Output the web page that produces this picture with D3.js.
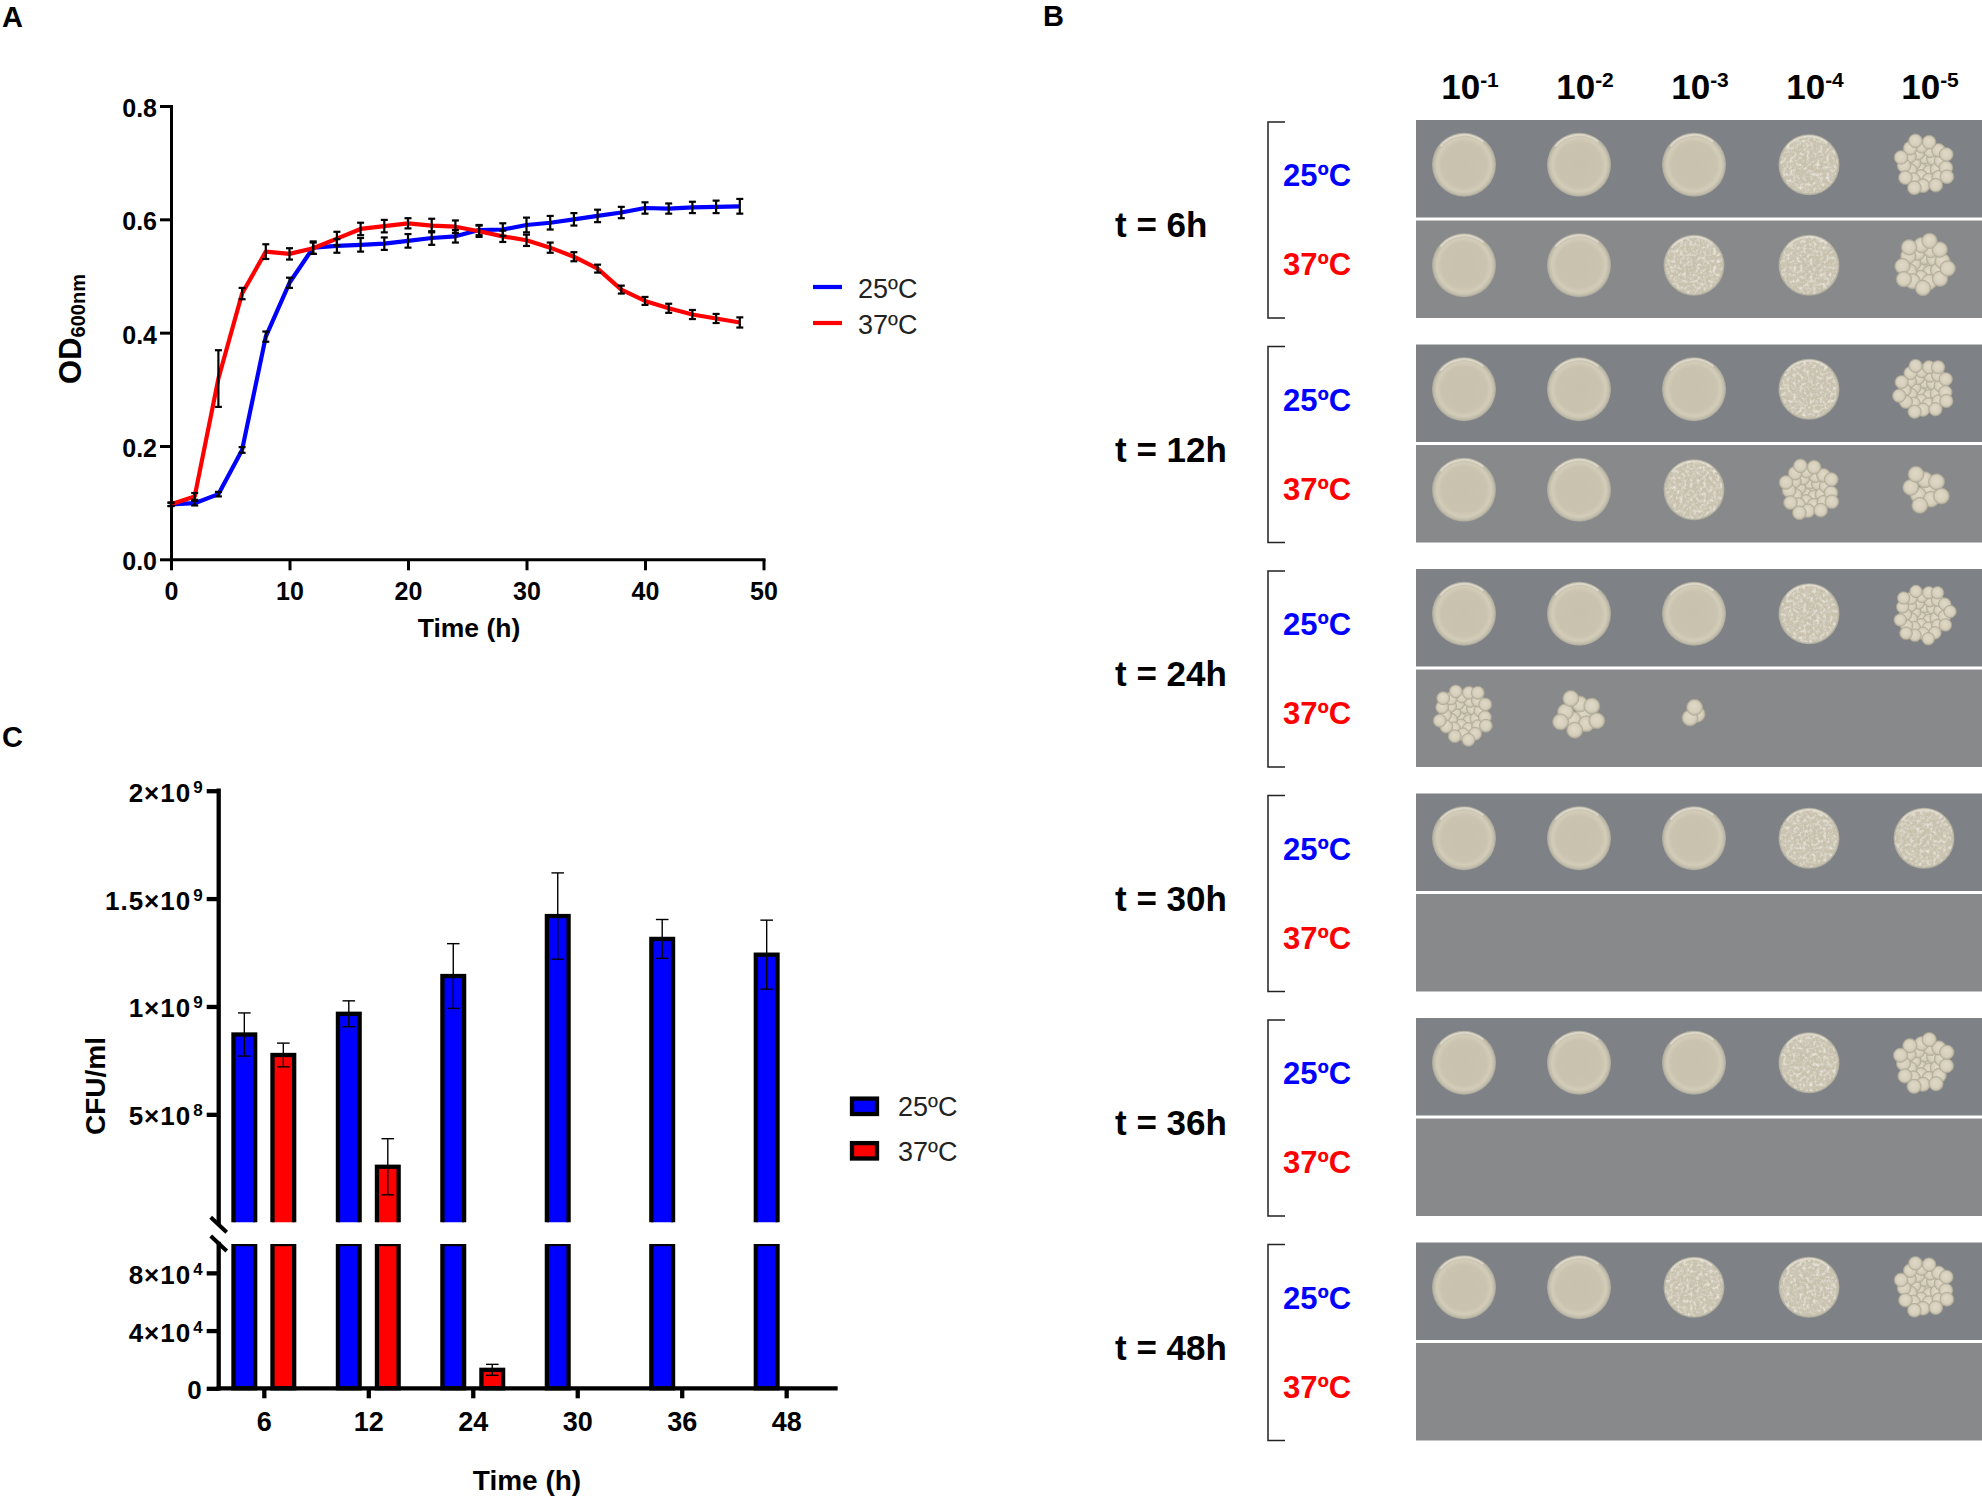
<!DOCTYPE html>
<html><head><meta charset="utf-8">
<script src="https://cdn.jsdelivr.net/npm/d3@7"></script>
<style>
body{margin:0;background:#fff}
svg{display:block}
</style>
</head><body>
<svg id="fig" width="1982" height="1497"></svg>
<script>
// ================= DATA =================
// Panel A : growth curves (OD600nm)
const hoursA = [0,2,4,6,8,10,12,14,16,18,20,22,24,26,28,30,32,34,36,38,40,42,44,46,48];
const od25   = [0.097,0.099,0.115,0.193,0.393,0.488,0.550,0.553,0.555,0.557,0.562,0.567,0.570,0.581,0.582,0.590,0.594,0.600,0.606,0.612,0.620,0.619,0.621,0.622,0.623];
const od25sd = [0.003,0.004,0.004,0.005,0.009,0.009,0.011,0.012,0.012,0.011,0.012,0.012,0.011,0.009,0.011,0.013,0.012,0.011,0.011,0.010,0.010,0.009,0.010,0.011,0.013];
const od37   = [0.097,0.111,0.319,0.469,0.543,0.539,0.549,0.566,0.583,0.588,0.593,0.589,0.587,0.579,0.570,0.563,0.550,0.534,0.513,0.476,0.456,0.443,0.432,0.425,0.418];
const od37sd = [0.003,0.006,0.050,0.010,0.013,0.010,0.010,0.012,0.011,0.011,0.009,0.012,0.011,0.010,0.010,0.010,0.009,0.008,0.007,0.007,0.007,0.008,0.008,0.008,0.009];
const ticksAx = [0,10,20,30,40,50];
const ticksAy = [0,0.2,0.4,0.6,0.8];
const seriesNames = ["25ºC","37ºC"];

// Panel C : CFU/ml
const timesC   = ["6","12","24","30","36","48"];
const cfu25    = [0.870e9,0.966e9,1.141e9,1.419e9,1.313e9,1.240e9];
const cfu25sd  = [0.100e9,0.060e9,0.150e9,0.200e9,0.090e9,0.160e9];
const cfu37    = [0.775e9,0.257e9,1.28e4,0,0,0];
const cfu37sd  = [0.055e9,0.130e9,0.38e4,0,0,0];
const ticksCUpper = [5e8,1e9,1.5e9,2e9];
const ticksCUpperLabels = [["5×10","8"],["1×10","9"],["1.5×10","9"],["2×10","9"]];
const ticksCLower = [0,4e4,8e4];
const ticksCLowerLabels = [["0",""],["4×10","4"],["8×10","4"]];

// Panel B : spot assay
const spotTimes = ["t = 6h","t = 12h","t = 24h","t = 30h","t = 36h","t = 48h"];
const dilutionExp = ["-1","-2","-3","-4","-5"];
const tempLabels = ["25ºC","37ºC"];
// "L" = confluent spot, "G" = grainy confluent spot, number = visible colonies, 0 = no growth
const growth25 = [
  ["L","L","L","G",30],
  ["L","L","L","G",32],
  ["L","L","L","G",36],
  ["L","L","L","G","G"],
  ["L","L","L","G",28],
  ["L","L","G","G",30]
];
const growth37 = [
  ["L","L","G","G",24],
  ["L","L","G",30,9],
  [34,10,3,0,0],
  [0,0,0,0,0],
  [0,0,0,0,0],
  [0,0,0,0,0]
];

// ================= DRAW =================
const FONT = '"Liberation Sans", Arial, Helvetica, sans-serif';
const BLUE = "#0000ff", RED = "#ff0000";
const svg = d3.select("#fig").style("font-family", FONT);
svg.append("rect").attr("width",1982).attr("height",1497).attr("fill","#fff");
const defs = svg.append("defs");

function panelLetter(t, x, y){
  svg.append("text").attr("x",x).attr("y",y).attr("font-size",29).attr("font-weight","bold").text(t);
}
panelLetter("A",2,27);
panelLetter("B",1043,26);
panelLetter("C",2,747);

function styleAxis(g, sw, fs, bold){
  g.select(".domain").attr("stroke","#000").attr("stroke-width",sw).attr("stroke-linecap","square");
  g.selectAll(".tick line").attr("stroke","#000").attr("stroke-width",sw);
  g.selectAll(".tick text").attr("fill","#000").attr("font-size",fs)
    .attr("font-weight", bold ? "bold" : "normal").attr("font-family",FONT);
  g.attr("font-size",null).attr("font-family",null);
}

// ---------- Panel A ----------
(function(){
  const x = d3.scaleLinear().domain([0,50]).range([171,763.5]);
  const y = d3.scaleLinear().domain([0,0.8]).range([559.3,106]);
  const g = svg.append("g");
  const ay = g.append("g").attr("transform",`translate(${x(0)},0)`)
    .call(d3.axisLeft(y).tickValues(ticksAy).tickFormat(d3.format(".1f")).tickSize(11).tickSizeOuter(0).tickPadding(3));
  styleAxis(ay,3,25,true);
  ay.selectAll(".tick text").attr("dy","0.42em");
  const ax = g.append("g").attr("transform",`translate(0,${y(0)})`)
    .call(d3.axisBottom(x).tickValues(ticksAx).tickSize(11).tickSizeOuter(0).tickPadding(12));
  styleAxis(ax,3,25,true);

  const rows = hoursA.map((h,i)=>({h, a:od25[i], asd:od25sd[i], b:od37[i], bsd:od37sd[i]}));
  const series = [
    {name:seriesNames[0], color:BLUE, pts:rows.map(r=>({h:r.h,v:r.a,sd:r.asd}))},
    {name:seriesNames[1], color:RED,  pts:rows.map(r=>({h:r.h,v:r.b,sd:r.bsd}))}
  ];
  const line = d3.line().x(d=>x(d.h)).y(d=>y(d.v));
  g.selectAll("path.series").data(series).join("path").attr("class","series")
    .attr("d",d=>line(d.pts)).attr("fill","none").attr("stroke",d=>d.color)
    .attr("stroke-width",4.2).attr("stroke-linejoin","round");
  const eb = g.append("g").attr("stroke","#000").attr("stroke-width",2.2);
  series.forEach(s=>{
    s.pts.forEach(p=>{
      const cx = x(p.h), y1 = y(p.v+p.sd), y2 = y(p.v-p.sd);
      eb.append("line").attr("x1",cx).attr("x2",cx).attr("y1",y1).attr("y2",y2);
      eb.append("line").attr("x1",cx-3.5).attr("x2",cx+3.5).attr("y1",y1).attr("y2",y1);
      eb.append("line").attr("x1",cx-3.5).attr("x2",cx+3.5).attr("y1",y2).attr("y2",y2);
    });
  });
  const leg = g.append("g");
  series.forEach((s,i)=>{
    const ly = 287 + i*36;
    leg.append("line").attr("x1",813).attr("x2",842).attr("y1",ly).attr("y2",ly).attr("stroke",s.color).attr("stroke-width",4.2);
    leg.append("text").attr("x",858).attr("y",ly+11).attr("font-size",27).attr("fill","#222").text(s.name);
  });
  g.append("text").attr("x",469).attr("y",637).attr("text-anchor","middle")
    .attr("font-size",26.5).attr("font-weight","bold").text("Time (h)");
  const yl = g.append("text").attr("transform","translate(81,329) rotate(-90)").attr("text-anchor","middle")
    .attr("font-weight","bold").attr("font-size",31);
  yl.append("tspan").text("OD");
  yl.append("tspan").attr("font-size",20).attr("dy",4).text("600nm");
})();

// ---------- Panel C ----------
(function(){
  const g = svg.append("g");
  const x = d3.scalePoint().domain(timesC).range([216.5,833.5]).padding(0.453);
  const yU = d3.scaleLinear().domain([0,2e9]).range([1222.2,790.7]);
  const yL = d3.scaleLinear().domain([0,1e5]).range([1388.3,1244]);
  const AX = 218.7, SW = 4.3;
  const breakU = 1222.2, breakL = 1244;

  defs.append("clipPath").attr("id","clipU").append("rect").attr("x",0).attr("y",700).attr("width",1000).attr("height",breakU-700);
  defs.append("clipPath").attr("id","clipL").append("rect").attr("x",0).attr("y",breakL).attr("width",1000).attr("height",200);

  const bars = [];
  timesC.forEach((t,i)=>{
    bars.push({t, v:cfu25[i], sd:cfu25sd[i], off:-19.5, color:BLUE});
    bars.push({t, v:cfu37[i], sd:cfu37sd[i], off:19.5, color:RED});
  });
  const bw = 21.7;
  const drawn = bars.filter(b=>b.v>0);
  const gU = g.append("g").attr("clip-path","url(#clipU)");
  gU.selectAll("rect").data(drawn.filter(b=>b.v>yL.domain()[1])).join("rect")
    .attr("x",d=>x(d.t)+d.off-bw/2).attr("width",bw)
    .attr("y",d=>yU(d.v)).attr("height",d=>breakU+20-yU(d.v))
    .attr("fill",d=>d.color).attr("stroke","#000").attr("stroke-width",SW);
  const lowTop = d=>Math.max(yL(Math.min(d.v,1e5)), breakL-20);
  const gL = g.append("g").attr("clip-path","url(#clipL)");
  gL.selectAll("rect").data(drawn).join("rect")
    .attr("x",d=>x(d.t)+d.off-bw/2).attr("width",bw)
    .attr("y",lowTop).attr("height",d=>yL(0)-lowTop(d))
    .attr("fill",d=>d.color).attr("stroke","#000").attr("stroke-width",SW);
  const eb = g.append("g").attr("stroke","#000").attr("stroke-width",1.4);
  drawn.forEach(d=>{
    const sc = d.v>1e5 ? yU : yL;
    const cx = x(d.t)+d.off, y1 = sc(d.v+d.sd), y2 = sc(d.v-d.sd);
    eb.append("line").attr("x1",cx).attr("x2",cx).attr("y1",y1).attr("y2",y2);
    eb.append("line").attr("x1",cx-6.3).attr("x2",cx+6.3).attr("y1",y1).attr("y2",y1);
    eb.append("line").attr("x1",cx-6.3).attr("x2",cx+6.3).attr("y1",y2).attr("y2",y2);
  });
  const aU = g.append("g").attr("transform",`translate(${AX},0)`)
    .call(d3.axisLeft(yU).tickValues(ticksCUpper).tickFormat(()=>"" ).tickSize(12).tickSizeOuter(0));
  aU.select(".domain").attr("d",`M0,${breakU}V${yU(2e9)}`);
  styleAxis(aU,SW,24,true);
  const aL = g.append("g").attr("transform",`translate(${AX},0)`)
    .call(d3.axisLeft(yL).tickValues(ticksCLower).tickFormat(()=>"" ).tickSize(12).tickSizeOuter(0));
  aL.select(".domain").attr("d",`M0,${yL(0)}V${breakL}`);
  styleAxis(aL,SW,24,true);
  function tickLabels(vals, labs, sc){
    vals.forEach((v,i)=>{
      const t = g.append("text").attr("x",AX-16).attr("y",sc(v)+11).attr("text-anchor","end")
        .attr("font-weight","bold").attr("font-size",26);
      t.append("tspan").attr("letter-spacing",1).text(labs[i][0]);
      if(labs[i][1]) t.append("tspan").attr("font-size",17).attr("dy",-9).attr("dx",2).text(labs[i][1]);
    });
  }
  tickLabels(ticksCUpper, ticksCUpperLabels, yU);
  tickLabels(ticksCLower, ticksCLowerLabels, yL);
  const bm = g.append("g").attr("stroke","#000").attr("stroke-width",4);
  [1224.7, 1243.5].forEach(yc=>{
    bm.append("line").attr("x1",AX-8).attr("x2",AX+8).attr("y1",yc-7.5).attr("y2",yc+7.5);
  });
  const ax = g.append("g").attr("transform",`translate(0,${yL(0)})`)
    .call(d3.axisBottom(x).tickSize(10).tickSizeOuter(0).tickPadding(14));
  ax.select(".domain").attr("d",`M${AX},0H835.5`);
  styleAxis(ax,SW,27,true);
  [[BLUE,seriesNames[0]],[RED,seriesNames[1]]].forEach((l,i)=>{
    const ly = 1098.6 + i*44.5;
    g.append("rect").attr("x",852).attr("y",ly).attr("width",25).attr("height",15.4)
      .attr("fill",l[0]).attr("stroke","#000").attr("stroke-width",SW);
    g.append("text").attr("x",898).attr("y",ly+17.5).attr("font-size",27).attr("fill","#222").text(l[1]);
  });
  g.append("text").attr("x",527).attr("y",1490).attr("text-anchor","middle")
    .attr("font-size",28).attr("font-weight","bold").text("Time (h)");
  g.append("text").attr("transform","translate(105,1086) rotate(-90)").attr("text-anchor","middle")
    .attr("font-size",28).attr("font-weight","bold").text("CFU/ml");
})();

// ---------- Panel B ----------
(function(){
  const g = svg.append("g");
  const lawn = defs.append("radialGradient").attr("id","lawn");
  [[0,"#c8c1ad"],[0.7,"#cac3af"],[0.84,"#d2ccb9"],[0.93,"#c4bfac"],[1,"#a9a79c"]]
    .forEach(s=>lawn.append("stop").attr("offset",s[0]).attr("stop-color",s[1]));
  const grain = defs.append("radialGradient").attr("id","grain");
  [[0,"#c6bfab"],[0.8,"#c9c2ae"],[0.93,"#c6c0ad"],[1,"#a9a79c"]]
    .forEach(s=>grain.append("stop").attr("offset",s[0]).attr("stop-color",s[1]));
  const col = defs.append("radialGradient").attr("id","colony").attr("fx",0.45).attr("fy",0.4);
  [[0,"#e0d9c7"],[0.7,"#d6cfbc"],[1,"#b9b3a1"]]
    .forEach(s=>col.append("stop").attr("offset",s[0]).attr("stop-color",s[1]));
  // speckle texture filters (styling only)
  function speckle(id, freq, rgb, ch, k, c){
    const f = defs.append("filter").attr("id",id).attr("x",0).attr("y",0).attr("width",1).attr("height",1);
    f.append("feTurbulence").attr("type","fractalNoise").attr("baseFrequency",freq).attr("numOctaves",2).attr("seed",ch==="R"?4:9).attr("result","n");
    const a = ch==="R" ? `${k} 0 0 0 ${c}` : `0 ${k} 0 0 ${c}`;
    f.append("feColorMatrix").attr("in","n").attr("type","matrix")
      .attr("values",`0 0 0 0 ${rgb[0]} 0 0 0 0 ${rgb[1]} 0 0 0 0 ${rgb[2]} ${a}`).attr("result","m");
    f.append("feComposite").attr("in","m").attr("in2","SourceGraphic").attr("operator","in");
  }
  speckle("spLight", 0.3, [0.86,0.84,0.77], "R", 2.2, -1.0);
  speckle("spDark", 0.3, [0.64,0.62,0.56], "G", 2.2, -1.05);

  const gy = d3.scalePoint().domain(spotTimes).range([120,1242.5]);
  const row = d3.scaleBand().domain(tempLabels).range([0,198]).paddingInner(0.03);
  const cx = d3.scalePoint().domain(dilutionExp).range([1464,1924]);
  const plateColor = {"25ºC":"#7e8185","37ºC":"#88898b"};
  const golden = Math.PI*(3-Math.sqrt(5));
  function phyllo(n, R){
    return d3.range(n).map(i=>{
      const r = R*Math.sqrt((i+0.5)/n), a = i*golden;
      return [r*Math.cos(a), r*Math.sin(a)];
    });
  }
  dilutionExp.forEach(d=>{
    const t = g.append("text").attr("x",cx(d)+6).attr("y",99).attr("text-anchor","middle")
      .attr("font-weight","bold").attr("font-size",35);
    t.append("tspan").text("10");
    t.append("tspan").attr("font-size",21).attr("dy",-12).text(d);
  });

  spotTimes.forEach((tl,i)=>{
    const top = gy(tl);
    g.append("text").attr("x",1115).attr("y",top+117).attr("font-weight","bold").attr("font-size",35).text(tl);
    g.append("path").attr("d",`M1285,${top+2}H1268V${top+198}H1285`).attr("fill","none")
      .attr("stroke","#222").attr("stroke-width",1.5);
    tempLabels.forEach((tp,j)=>{
      const py = top + row(tp);
      g.append("text").attr("x",1283).attr("y",top + (j===0?66:155)).attr("font-weight","bold")
        .attr("font-size",31).attr("fill",j===0?BLUE:RED).text(tp);
      g.append("rect").attr("x",1416).attr("y",py).attr("width",566).attr("height",row.bandwidth())
        .attr("fill",plateColor[tp]);
      const growth = (j===0?growth25:growth37)[i];
      const cyy = py + row.bandwidth()/2 - 4;
      dilutionExp.forEach((d,k)=>{
        const v = growth[k], X = cx(d);
        if(v===0) return;
        if(v==="L" || v==="G"){
          const R = v==="L" ? 32 : 30.5;
          g.append("circle").attr("cx",X).attr("cy",cyy).attr("r",R).attr("fill",v==="L"?"url(#lawn)":"url(#grain)");
          if(v==="G"){
            g.append("circle").attr("cx",X).attr("cy",cyy).attr("r",R-2.5).attr("fill","#fff").attr("filter","url(#spDark)");
            g.append("circle").attr("cx",X).attr("cy",cyy).attr("r",R-1.5).attr("fill","#fff").attr("filter","url(#spLight)");
          }
          g.append("path").attr("transform",`translate(${X},${cyy})`)
            .attr("d",d3.arc()({innerRadius:R-3,outerRadius:R-1,startAngle:-0.9,endAngle:0.7}))
            .attr("fill","#ece8dc").attr("opacity",0.6);
        } else {
          const n = v;
          const R = Math.min(33, 9*Math.sqrt(n));
          const rc = Math.min(8, Math.max(5.5, 1.15*R/Math.sqrt(n)));
          const pts = phyllo(n, Math.max(R-rc, 2));
          g.append("g").selectAll("circle").data(pts).join("circle")
            .attr("cx",p=>X+p[0]).attr("cy",p=>cyy+p[1]).attr("r",rc)
            .attr("fill","url(#colony)").attr("stroke","#aea996").attr("stroke-width",0.7);
        }
      });
    });
  });
})();
</script>
</body></html>
